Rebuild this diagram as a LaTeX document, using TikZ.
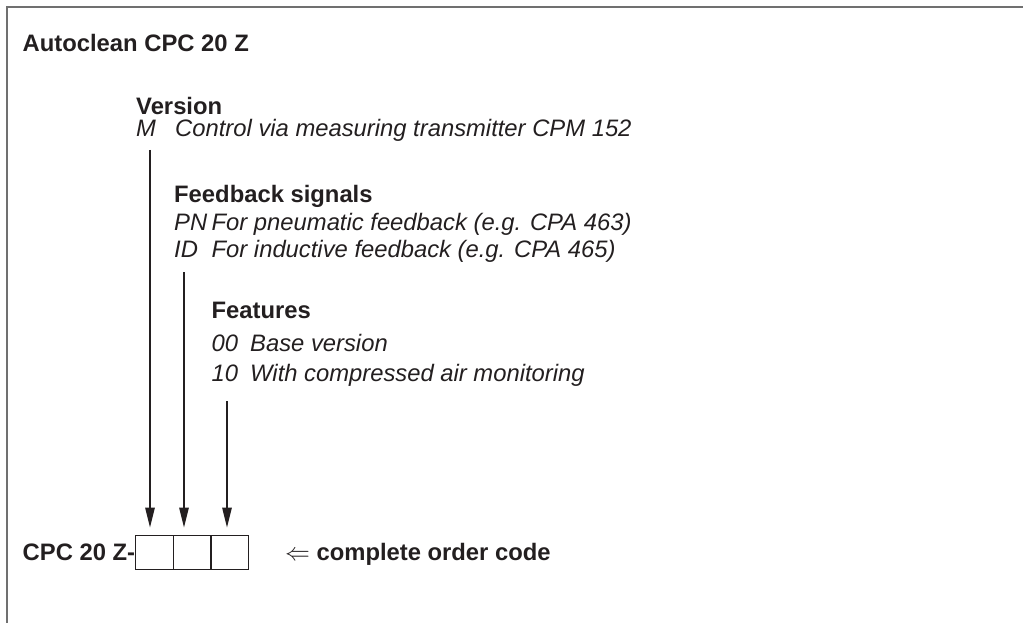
\documentclass[tikz,border=0pt]{standalone}
\usepackage{fontspec}
\setmainfont{Liberation Sans}
\usetikzlibrary{arrows.meta}
\definecolor{ink}{HTML}{231F20}
\definecolor{framegray}{HTML}{707070}
\begin{document}
\begin{tikzpicture}[x=1pt,y=-1pt,
  txt/.style={anchor=base west, inner sep=0pt, text=ink, font=\fontsize{23.8}{28}\selectfont},
  head/.style={txt, font=\fontsize{23.8}{28}\selectfont\bfseries},
  item/.style={txt, font=\fontsize{23.8}{28}\selectfont\itshape},
  cell/.style={draw=ink, line width=1pt, minimum width=37.6pt, minimum height=34pt, inner sep=0pt},
  arr/.style={draw=ink, line width=1.3pt, -{Triangle[length=20pt,width=9.5pt]}, shorten >=7pt},
  frameline/.style={draw=framegray, line width=1.4pt}]
\useasboundingbox (0,0) rectangle (1023,623);
% frame
\coordinate (fTL) at (7,7);
\coordinate (fTR) at (1024,7);
\coordinate (fBL) at (7,624);
\draw[frameline] (fTR) -- (fTL) -- (fBL);
% title
\node[head] (title) at (22.5,52) {Autoclean CPC 20 Z};
% version
\node[head] (ver) at (136,115) {Version};
\node[item] (verM) at (136,137) {M};
\node[item] (verMd) at (175,137) {Control via measuring transmitter CPM 152};
% feedback
\node[head] (fb) at (174,202.5) {Feedback signals};
\node[item] (fbPN) at (174,230.5) {PN};
\node[item] (fbPNd) at (211.5,230.5) {For pneumatic feedback (e.g. CPA 463)};
\node[item] (fbID) at (174,257.5) {ID};
\node[item] (fbIDd) at (211.5,257.5) {For inductive feedback (e.g. CPA 465)};
% features
\node[head] (feat) at (211.5,318.5) {Features};
\node[item] (ft00) at (211.5,351.5) {00};
\node[item] (ft00d) at (250,351.5) {Base version};
\node[item] (ft10) at (211.5,381.5) {10};
\node[item] (ft10d) at (250,381.5) {With compressed air monitoring};
% order code
\node[head] (cpc) at (22.5,560) {CPC 20 Z-};
\node[cell] (c1) at (154.5,552) {};
\node[cell] (c2) at (192.15,552) {};
\node[cell] (c3) at (229.8,552) {};
\node[head] (oc) at (285,560) {$\Leftarrow$\hspace{6.5pt}complete order code};
% arrows
\coordinate (a1) at (150,150);
\coordinate (a2) at (184,272);
\coordinate (a3) at (227,401);
\draw[arr] (a1) -- (a1 |- c1.north);
\draw[arr] (a2) -- (a2 |- c2.north);
\draw[arr] (a3) -- (a3 |- c3.north);
\end{tikzpicture}
\end{document}
